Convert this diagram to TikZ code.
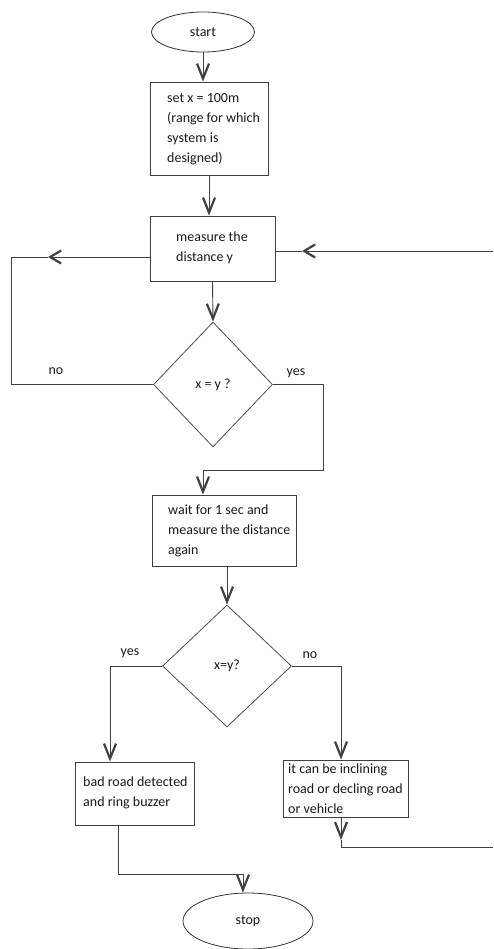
\documentclass[tikz,border=0pt]{standalone}
\usepackage{fontspec}
\setmainfont{Carlito}
\usetikzlibrary{shapes.geometric,arrows.meta}
\begin{document}
\begin{tikzpicture}[x=1pt,y=-1pt,
  every node/.style={font=\fontsize{14}{20}\selectfont, text=black!90},
  ln/.style={draw=black!75, line width=0.9pt},
  boxs/.style={draw=black!75, line width=0.9pt, rectangle, inner sep=0pt},
  ells/.style={draw=black!80, line width=0.8pt, ellipse, inner sep=0pt},
  dias/.style={draw=black!70, line width=0.8pt, diamond, inner sep=0pt},
  txt/.style={anchor=west, align=left, inner sep=0pt},
  darr/.style={ln, -{Straight Barb[length=15pt,width=12pt,line width=2.2pt]}},
  harr/.style={ln, -{Straight Barb[length=11pt,width=13pt,line width=2.2pt]}}
]
\useasboundingbox (0,0) rectangle (493,949);
% shapes
\node[ells, minimum width=103pt, minimum height=40pt] (start) at (203,32) {start};
\node[boxs, minimum width=118pt, minimum height=93pt] (set) at (209,128.5) {};
\node[txt] (setT) at (167,129.5) {set x = 100m\\(range for which\\system is\\designed)};
\node[boxs, minimum width=125pt, minimum height=65pt] (meas) at (212.5,248.5) {};
\node[txt] (measT) at (176,247.5) {measure the\\distance y};
\node[dias, minimum width=119pt, minimum height=125pt] (d1) at (213,384.5) {x = y ?};
\node[boxs, minimum width=144pt, minimum height=71pt] (wait) at (224,530.5) {};
\node[txt] (waitT) at (168,531) {wait for 1 sec and\\measure the distance\\again};
\node[dias, minimum width=129pt, minimum height=122pt] (d2) at (227,666) {x=y?};
\node[boxs, minimum width=119pt, minimum height=63pt] (bad) at (134.5,793.5) {};
\node[txt] (badT) at (83,793) {bad road detected\\and ring buzzer};
\node[boxs, minimum width=125pt, minimum height=57pt] (incl) at (345.5,788.5) {};
\node[txt] (inclT) at (288,789) {it can be inclining\\road or decling road\\or vehicle};
\node[ells, minimum width=130pt, minimum height=56pt] (stop) at (248,921) {stop};
% labels
\node (no1) at (56,371) {no};
\node (yes1) at (296,373) {yes};
\node (yes2) at (130,653) {yes};
\node (no2) at (310,655) {no};
% coordinates
\coordinate (Ltip) at (48,257);
\coordinate (L1) at (11,257);
\coordinate (L0) at (11,384.5);
\coordinate (R0) at (493,251);
\coordinate (Rtip) at (302,251);
\coordinate (Y1a) at (323,384.5);
\coordinate (Y1b) at (323,470);
\coordinate (Y1c) at (203,470);
\coordinate (Y2a) at (110,666);
\coordinate (N2a) at (341,666);
\coordinate (Itip) at (341,840);
\coordinate (Ib) at (341,847);
\coordinate (Ie) at (493,847);
\coordinate (Ba) at (118,874);
\coordinate (Bb) at (243,874);
% connectors
\draw[darr] (start.south) -- (start.south |- set.north);
\draw[darr] (set.south) -- (set.south |- meas.north);
\draw[darr] (meas.south) -- (d1.north);
\draw[harr] (meas.west |- Ltip) -- (Ltip);
\draw[ln] (Ltip) -- (L1) -- (L0) -- (d1.west);
\draw[harr] (R0) -- (Rtip);
\draw[ln] (Rtip) -- (meas.east |- Rtip);
\draw[ln] (d1.east) -- (Y1a) -- (Y1b) -- (Y1c);
\draw[darr] (Y1c) -- (Y1c |- wait.north);
\draw[darr] (d2.north |- wait.south) -- (d2.north);
\draw[ln] (d2.west) -- (Y2a);
\draw[darr] (Y2a) -- (Y2a |- bad.north);
\draw[ln] (d2.east) -- (N2a);
\draw[darr] (N2a) -- (N2a |- incl.north);
\draw[darr] (Itip |- incl.south) -- (Itip);
\draw[ln] (Itip) -- (Ib) -- (Ie);
\draw[ln] (Ba |- bad.south) -- (Ba) -- (Bb);
\draw[darr] (Bb) -- (Bb |- stop.north);
\end{tikzpicture}
\end{document}
